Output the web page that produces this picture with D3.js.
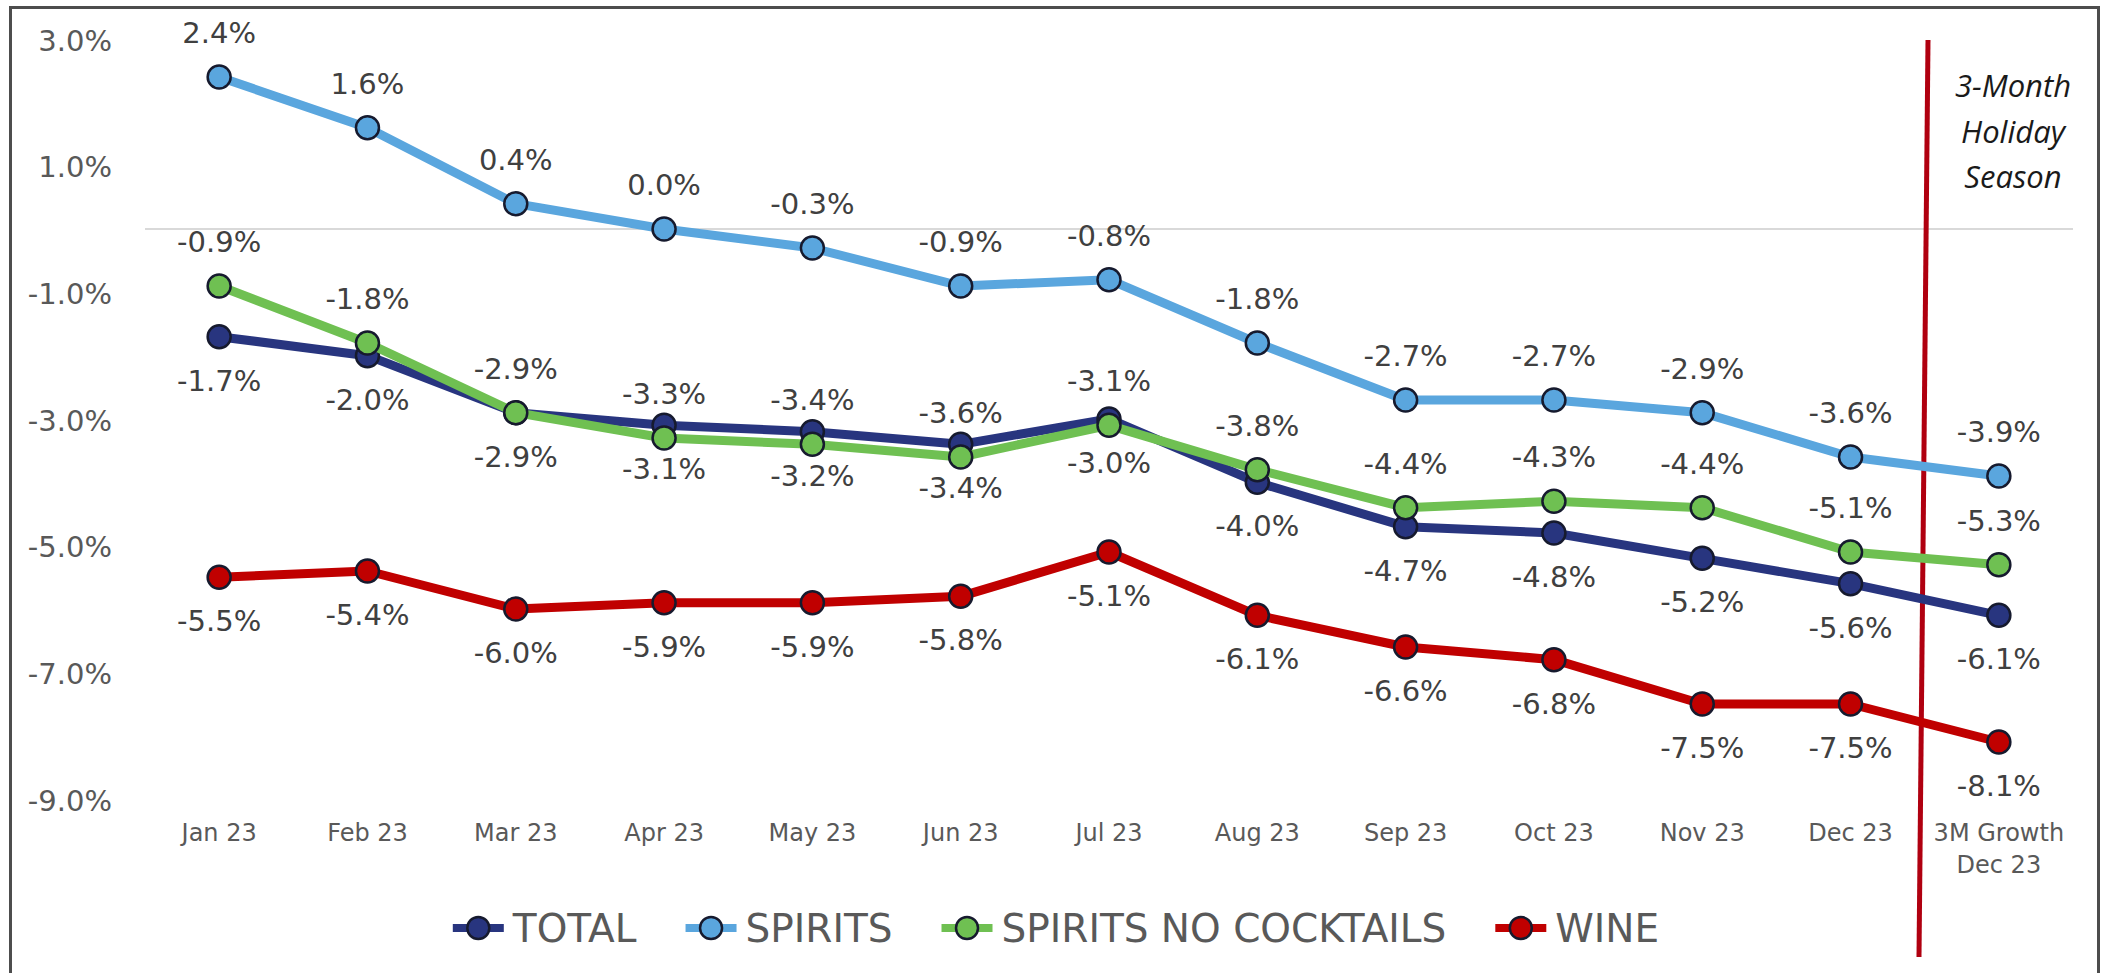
<!DOCTYPE html>
<html>
<head>
<meta charset="utf-8">
<script src="https://cdn.jsdelivr.net/npm/d3@7"></script>
<style>
  body { margin: 0; background: #fff; }
  svg text { font-family: "DejaVu Sans", sans-serif; }
</style>
</head>
<body>
<svg id="chart" width="2102" height="973"></svg>
<script>
// categories + series values
const months = ["Jan 23", "Feb 23", "Mar 23", "Apr 23", "May 23", "Jun 23", "Jul 23",
  "Aug 23", "Sep 23", "Oct 23", "Nov 23", "Dec 23", "3M Growth Dec 23"];
const total = [-1.7, -2.0, -2.9, -3.1, -3.2, -3.4, -3.0, -4.0, -4.7, -4.8, -5.2, -5.6, -6.1];
const spirits = [2.4, 1.6, 0.4, 0.0, -0.3, -0.9, -0.8, -1.8, -2.7, -2.7, -2.9, -3.6, -3.9];
const spiritsNoCocktails = [-0.9, -1.8, -2.9, -3.3, -3.4, -3.6, -3.1, -3.8, -4.4, -4.3, -4.4, -5.1, -5.3];
const wine = [-5.5, -5.4, -6.0, -5.9, -5.9, -5.8, -5.1, -6.1, -6.6, -6.8, -7.5, -7.5, -8.1];
const yTicks = [3, 1, -1, -3, -5, -7, -9];
const noteLines = ["3-Month", "Holiday", "Season"];

// label side: above for spirits lines, below for total / wine
const series = [
  { name: "TOTAL", values: total, color: "#28357f", side: 1 },
  { name: "SPIRITS", values: spirits, color: "#5aa6de", side: -1 },
  { name: "SPIRITS NO COCKTAILS", values: spiritsNoCocktails, color: "#6fc052", side: -1 },
  { name: "WINE", values: wine, color: "#c00000", side: 1 }
];

var svg = d3.select("#chart");
svg.append("rect").attr("width", 2102).attr("height", 973).attr("fill", "#fff");

// frame (runs off the bottom like the original)
svg.append("rect")
  .attr("x", 10.5).attr("y", 7.5)
  .attr("width", 2088).attr("height", 1000)
  .attr("fill", "none").attr("stroke", "#4d4d4d").attr("stroke-width", 3);

var x = d3.scaleBand().domain(months).range([145, 2073]);
var cx = d => x(d) + x.bandwidth() / 2;
var y = d3.scaleLinear().domain([-9, 3]).range([799, 39]);
var fmt = v => v.toFixed(1) + "%";

// zero line
svg.append("line")
  .attr("x1", 145).attr("x2", 2073)
  .attr("y1", y(0)).attr("y2", y(0))
  .attr("stroke", "#d9d9d9").attr("stroke-width", 2);

// y axis, labels only
var yAxis = svg.append("g")
  .attr("transform", "translate(112,2)")
  .call(d3.axisLeft(y).tickValues(yTicks).tickSize(0).tickPadding(0).tickFormat(fmt));
yAxis.select(".domain").remove();
yAxis.attr("font-family", null).attr("font-size", 29);
yAxis.selectAll("text").attr("fill", "#595959");

// x axis
var xAxis = svg.append("g")
  .attr("transform", "translate(0,815)")
  .call(d3.axisBottom(x).tickSize(0).tickPadding(0));
xAxis.select(".domain").remove();
xAxis.attr("font-family", null).attr("font-size", 24);
xAxis.selectAll("text")
  .attr("fill", "#595959")
  .attr("y", 18).attr("dy", "0.35em")
  .each(function(d) {
    var parts = d.split(" Dec ");
    if (parts.length < 2 || parts[0] == "") return;
    var t = d3.select(this).text(null);
    t.append("tspan").attr("x", 0).text(parts[0]);
    t.append("tspan").attr("x", 0).attr("dy", 32).text("Dec " + parts[1]);
  });

// holiday marker line + note
svg.append("line")
  .attr("x1", 1928).attr("y1", 40).attr("x2", 1919).attr("y2", 957)
  .attr("stroke", "#b00010").attr("stroke-width", 5);

svg.append("g").selectAll("text")
  .data(noteLines).enter()
  .append("text")
  .attr("x", 2013).attr("y", (d, i) => 85 + i * 45.5)
  .attr("dominant-baseline", "central")
  .attr("text-anchor", "middle")
  .style("font-family", "'Open Sans', sans-serif")
  .style("font-style", "italic")
  .attr("font-size", 31)
  .attr("fill", "#1a1a1a")
  .text(d => d);

var line = d3.line().x((d, i) => cx(months[i])).y(d => y(d));

series.forEach(function(s) {
  var g = svg.append("g");
  g.append("path")
    .datum(s.values)
    .attr("d", line)
    .attr("fill", "none")
    .attr("stroke", s.color)
    .attr("stroke-width", 9)
    .attr("stroke-linejoin", "round");
  g.selectAll("circle")
    .data(s.values).enter()
    .append("circle")
    .attr("cx", (d, i) => cx(months[i]))
    .attr("cy", d => y(d))
    .attr("r", 11.5)
    .attr("fill", s.color)
    .attr("stroke", "#161a2e")
    .attr("stroke-width", 2.5);
});

// data labels on top of everything
series.forEach(function(s) {
  svg.append("g").selectAll("text")
    .data(s.values).enter()
    .append("text")
    .attr("x", (d, i) => cx(months[i]))
    .attr("y", d => y(d) + s.side * 44)
    .attr("text-anchor", "middle")
    .attr("dominant-baseline", "central")
    .attr("font-size", 29)
    .attr("fill", "#404040")
    .text(d => fmt(d));
});

// legend
var legend = svg.append("g");
var cursor = 0;
series.forEach(function(s) {
  var item = legend.append("g").attr("transform", "translate(" + cursor + ",0)");
  item.append("line")
    .attr("x1", 0).attr("x2", 51).attr("y1", 0).attr("y2", 0)
    .attr("stroke", s.color).attr("stroke-width", 8);
  item.append("circle")
    .attr("cx", 25.5).attr("cy", 0).attr("r", 11)
    .attr("fill", s.color).attr("stroke", "#161a2e").attr("stroke-width", 2.5);
  var t = item.append("text")
    .attr("x", 60).attr("y", 0)
    .attr("dominant-baseline", "central")
    .attr("font-size", 39)
    .attr("fill", "#595959")
    .text(s.name);
  cursor += 60 + t.node().getComputedTextLength() + 49;
});
var legendWidth = cursor - 49;
legend.attr("transform", "translate(" + (1056 - legendWidth / 2) + ",928)");
</script>
</body>
</html>
